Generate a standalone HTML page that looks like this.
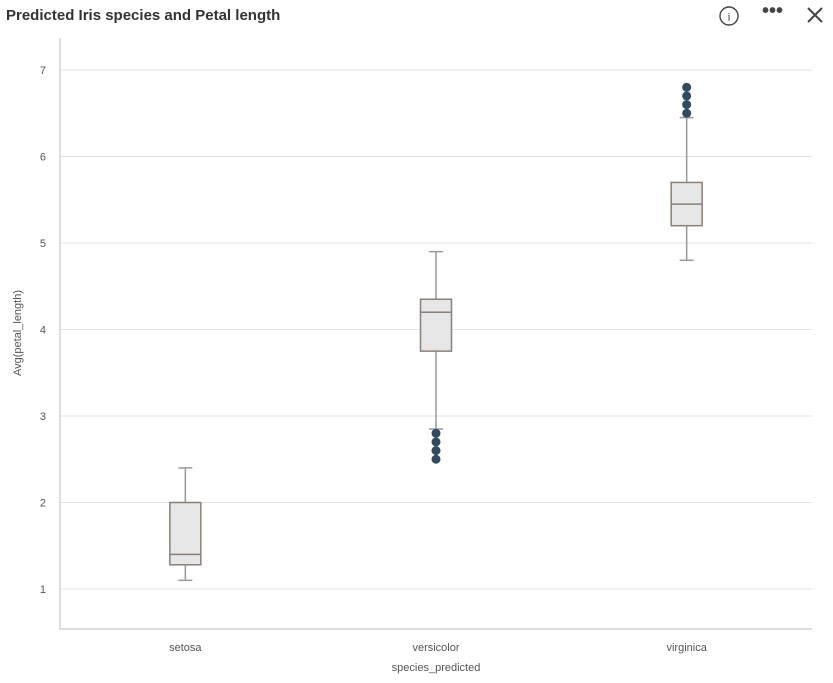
<!DOCTYPE html>
<html><head><meta charset="utf-8"><style>
body{margin:0;background:#fff;font-family:"Liberation Sans",sans-serif;}
#wrap{position:relative;width:833px;height:683px;overflow:hidden;}
#title{position:absolute;left:6px;top:7px;font-size:15px;font-weight:bold;color:#333;}
.ic{position:absolute;top:4px;color:#444;}
</style></head><body>
<div id="wrap">
<div id="title">Predicted Iris species and Petal length</div>
<svg class="ic" style="left:718px;top:5px" width="22" height="22"><circle cx="11" cy="11" r="9" fill="none" stroke="#444" stroke-width="1.4"/><text x="11" y="15.5" text-anchor="middle" font-size="12" font-family="Liberation Serif" fill="#444">i</text></svg>
<div class="ic" style="left:762px;top:0px;font-size:20px;font-weight:bold">•••</div>
<svg class="ic" style="left:806px;top:6px" width="18" height="18"><path d="M2 2L16 16M16 2L2 16" stroke="#444" stroke-width="2"/></svg>
<svg id="chart" width="833" height="683" style="position:absolute;left:0;top:0"></svg>
</div>
<script>
const categories=["setosa","versicolor","virginica"];
const lowWhisk=[1.1,2.85,4.8];
const q1s=[1.28,3.75,5.2];
const medians=[1.4,4.2,5.45];
const q3s=[2.0,4.35,5.7];
const highWhisk=[2.4,4.9,6.45];
const outliers=[[],[2.8,2.7,2.6,2.5],[6.5,6.6,6.7,6.8]];
const yTicks=[1,2,3,4,5,6,7];
const svg=document.getElementById('chart');
const NS='http://www.w3.org/2000/svg';
const pL=60,pR=812,pT=38,pB=629;
const y=v=>589-(v-1)*86.5;
const x=i=>pL+(pR-pL)*(i+0.5)/categories.length;
function mk(t,a,p){const e=document.createElementNS(NS,t);for(const k in a)e.setAttribute(k,a[k]);(p||svg).appendChild(e);return e;}
yTicks.forEach(t=>{
 const g=mk('line',{x1:pL,x2:pR,y1:y(t),y2:y(t),stroke:'#e3e3e3'});
 
 
 const l=mk('text',{x:46,y:y(t)+4,'text-anchor':'end','font-size':11,fill:'#555'});
 l.textContent=t;
 
 
});
const ax=mk('path',{d:`M${pL} ${pT}V${pB}H${pR}`,stroke:'#bbb',fill:'none'});


categories.forEach((c,i)=>{
 const cx=x(i),w=31;
 const g=mk('g',{});
 
 
 mk('line',{x1:cx,x2:cx,y1:y(highWhisk[i]),y2:y(lowWhisk[i]),stroke:'#999','stroke-width':1.5},g);
 [highWhisk[i],lowWhisk[i]].forEach(v=>mk('line',{x1:cx-7,x2:cx+7,y1:y(v),y2:y(v),stroke:'#999','stroke-width':1.5},g));
 mk('rect',{x:cx-w/2,y:y(q3s[i]),width:w,height:y(q1s[i])-y(q3s[i]),fill:'#e6e6e6',stroke:'#8a7f7a','stroke-width':1.5},g);
 mk('line',{x1:cx-w/2,x2:cx+w/2,y1:y(medians[i]),y2:y(medians[i]),stroke:'#8a7f7a','stroke-width':1.5},g);
 outliers[i].forEach(v=>{
  const d=mk('circle',{cx:cx,cy:y(v),r:4.5,fill:'#33495f'});
  
  
 });
 const l=mk('text',{x:cx,y:651,'text-anchor':'middle','font-size':11,fill:'#555'});
 l.textContent=c;
 
 
});
const xt=mk('text',{x:436,y:671,'text-anchor':'middle','font-size':11,fill:'#555'});
xt.textContent='species_predicted';


const yt=mk('text',{x:0,y:0,'text-anchor':'middle','font-size':11,fill:'#555',transform:'translate(21 333) rotate(-90)'});
yt.textContent='Avg(petal_length)';


</script>
</body></html>
